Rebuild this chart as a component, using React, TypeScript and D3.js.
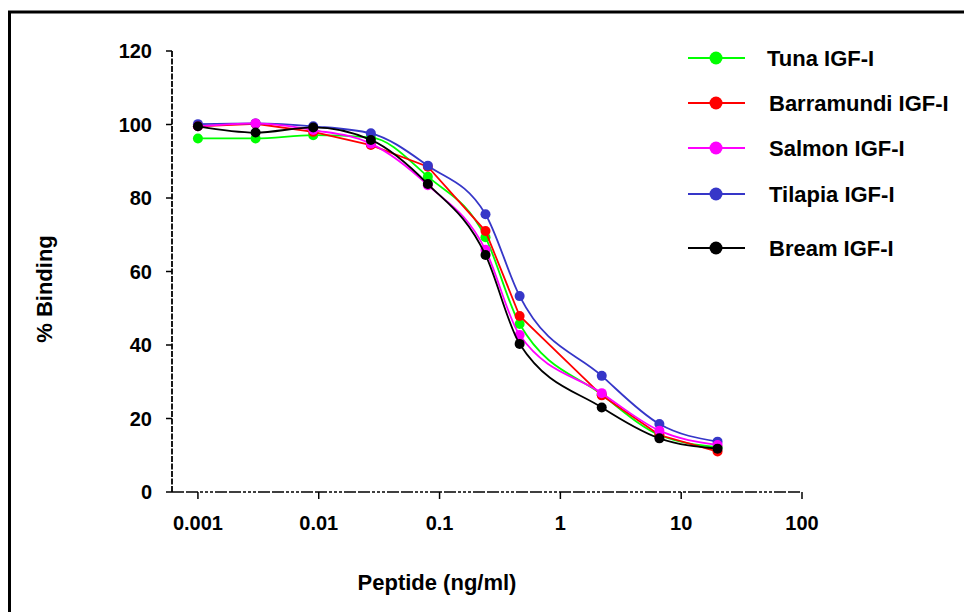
import React from "react";
import * as d3 from "d3";

const concentrations = [0.001, 0.003, 0.009, 0.027, 0.08, 0.24, 0.46, 2.2, 6.6, 20];
const tuna = [96.2, 96.2, 97.1, 96.5, 85.8, 69.3, 45.7, 26.5, 15.5, 12.2];
const barramundi = [99.5, 100.2, 98.0, 94.4, 88.5, 71.0, 47.9, 26.3, 15.5, 11.0];
const salmon = [99.5, 100.3, 98.5, 94.8, 83.5, 65.9, 42.7, 26.9, 16.7, 12.8];
const tilapia = [100.1, 100.3, 99.5, 97.6, 88.8, 75.6, 53.3, 31.6, 18.5, 13.7];
const bream = [99.5, 97.8, 99.2, 95.8, 83.8, 64.5, 40.3, 23.0, 14.6, 11.8];

const seriesNames = ["Tuna IGF-I", "Barramundi IGF-I", "Salmon IGF-I", "Tilapia IGF-I", "Bream IGF-I"];
const seriesColors = ["#00ff00", "#ff0000", "#ff00ff", "#3636c8", "#000000"];
const yTicks = [0, 20, 40, 60, 80, 100, 120];
const xTicks = [0.001, 0.01, 0.1, 1, 10, 100];
const xTickLabels = ["0.001", "0.01", "0.1", "1", "10", "100"];

const FONT = "'Liberation Sans', Arial, Helvetica, sans-serif";

export default function App() {
  const W = 964;
  const H = 612;
  const x = d3.scaleLog().domain([0.00061, 100]).range([172, 802]);
  const y = d3.scaleLinear().domain([0, 120]).range([492, 51]);

  const allSeries = [tuna, barramundi, salmon, tilapia, bream];
  const drawOrder = [0, 1, 3, 2, 4];

  const lineFor = (i: number) =>
    d3
      .line<number>()
      .x((_, k) => x(concentrations[k]))
      .y((v) => y(v))
      .curve(i === 1 ? d3.curveLinear : d3.curveMonotoneX);

  const legendY = [58, 103, 148, 194, 248];
  const legendTextX = [767, 769, 769, 769, 769];

  return (
    <svg
      width={W}
      height={H}
      style={{ position: "absolute", left: 0, top: 0, background: "#fff" }}
      fontFamily={FONT}
    >
      <rect x={0} y={0} width={W} height={H} fill="#fff" />
      {/* frame */}
      <path d={`M9.5,${H + 5} L9.5,12 L${W + 5},12`} fill="none" stroke="#000" strokeWidth={3} />

      {/* y axis */}
      <line x1={172} x2={172} y1={y(120)} y2={y(0)} stroke="#000" strokeWidth={1.8} strokeDasharray="6,1.5" />
      {yTicks.map((t) => (
        <g key={"yt" + t}>
          <line x1={166} x2={172} y1={y(t)} y2={y(t)} stroke="#000" strokeWidth={1.5} />
          <text
            x={152}
            y={y(t)}
            textAnchor="end"
            dominantBaseline="central"
            fontSize={20}
            fontWeight="bold"
          >
            {t}
          </text>
        </g>
      ))}

      {/* x axis */}
      <line
        x1={172}
        x2={x(100)}
        y1={492}
        y2={492}
        stroke="#000"
        strokeWidth={1.5}
        strokeDasharray="12,2,12,2,3,2,3,2,3,2"
      />
      {xTicks.map((t, i) => (
        <g key={"xt" + t}>
          <line x1={x(t)} x2={x(t)} y1={492} y2={499} stroke="#000" strokeWidth={1.5} />
          <text x={x(t)} y={530} textAnchor="middle" fontSize={20} fontWeight="bold">
            {xTickLabels[i]}
          </text>
        </g>
      ))}

      {/* axis titles */}
      <text x={437} y={590} textAnchor="middle" fontSize={22} fontWeight="bold">
        Peptide (ng/ml)
      </text>
      <text
        transform={`translate(52,289) rotate(-90)`}
        textAnchor="middle"
        fontSize={22}
        fontWeight="bold"
      >
        % Binding
      </text>

      {/* series */}
      {drawOrder.map((i) => (
        <g key={"s" + i}>
          <path
            d={lineFor(i)(allSeries[i]) || ""}
            fill="none"
            stroke={seriesColors[i]}
            strokeWidth={1.8}
          />
          {allSeries[i].map((v, k) => (
            <circle key={k} cx={x(concentrations[k])} cy={y(v)} r={5} fill={seriesColors[i]} />
          ))}
        </g>
      ))}

      {/* legend */}
      {seriesNames.map((name, i) => (
        <g key={"lg" + i}>
          <line x1={688} x2={745} y1={legendY[i]} y2={legendY[i]} stroke={seriesColors[i]} strokeWidth={2} />
          <circle cx={716} cy={legendY[i]} r={6.5} fill={seriesColors[i]} />
          <text
            x={legendTextX[i]}
            y={legendY[i]}
            dominantBaseline="central"
            fontSize={22}
            fontWeight="bold"
          >
            {name}
          </text>
        </g>
      ))}
    </svg>
  );
}
